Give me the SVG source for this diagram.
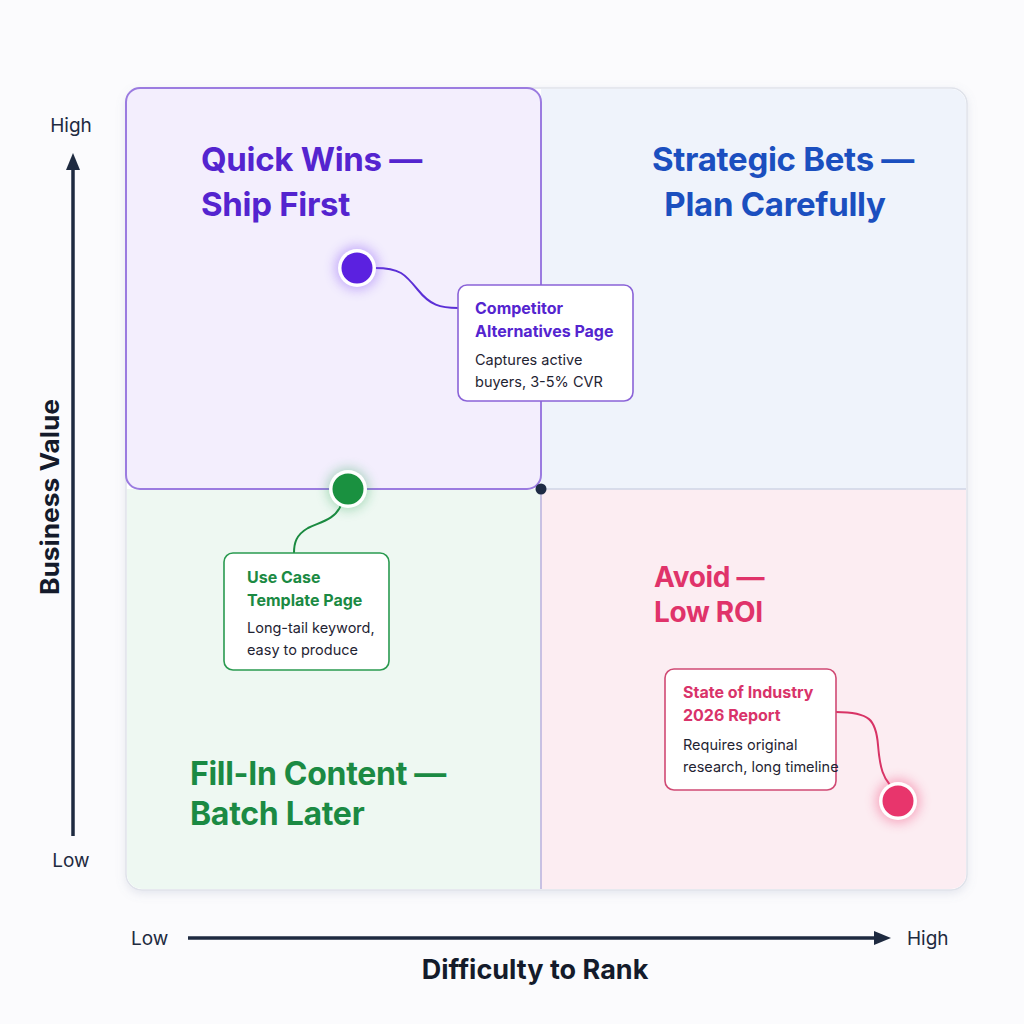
<svg xmlns="http://www.w3.org/2000/svg" width="1024" height="1024" viewBox="0 0 1024 1024">
<defs>
<style>
.title{font-family:Inter,"Noto Sans","Liberation Sans",sans-serif;font-weight:700;font-size:33px;letter-spacing:-0.3px}
.ct{font-family:Inter,"Noto Sans","Liberation Sans",sans-serif;font-weight:700;font-size:16px}
.cb{font-family:Inter,"Noto Sans","Liberation Sans",sans-serif;font-weight:400;font-size:14.5px;fill:#1f2433}
.ax{font-family:Inter,"Noto Sans","Liberation Sans",sans-serif;font-size:19px;fill:#1e2a40}
.axt{font-family:Inter,"Noto Sans","Liberation Sans",sans-serif;font-weight:700;font-size:27px;fill:#141b2b}
.box{fill:#ffffff;stroke-width:1.6}
.conn{fill:none;stroke-width:2}
</style>
<filter id="shadow" x="-10%" y="-10%" width="120%" height="120%">
<feDropShadow dx="0" dy="3" stdDeviation="5" flood-color="#7a86a8" flood-opacity="0.18"/>
</filter>
<filter id="glow" x="-100%" y="-100%" width="300%" height="300%">
<feGaussianBlur stdDeviation="6"/>
</filter>
<marker id="arr" markerWidth="18" markerHeight="18" refX="4" refY="9" orient="auto" markerUnits="userSpaceOnUse" viewBox="0 0 18 18">
<path d="M0,2 L17,9 L0,16 Z" fill="#1e2a40"/>
</marker>
</defs>
<rect width="1024" height="1024" fill="#fbfbfd"/>

<!-- outer card -->
<g id="matrix">
<rect x="126" y="88" width="841" height="802" rx="16" fill="#ffffff" stroke="#dfe2ea" stroke-width="1.5" filter="url(#shadow)"/>
<path d="M541,89 H951 a15,15 0 0 1 15,15 V489 H541 Z" fill="#eff3fb"/>
<path d="M127,489 H541 V889 H142 a15,15 0 0 1 -15,-15 Z" fill="#eef8f2"/>
<path d="M541,489 H966 V874 a15,15 0 0 1 -15,15 H541 Z" fill="#fcedf2"/>
<line x1="541" y1="489" x2="966" y2="489" stroke="#cfd4e6" stroke-width="1.5"/>
<line x1="541" y1="489" x2="541" y2="889" stroke="#b9b0de" stroke-width="1.5"/>
<rect x="126" y="88" width="415" height="401" rx="14" fill="#f3eefd" stroke="#9b7be0" stroke-width="2"/>
</g>

<g id="q-quickwins">
<text class="title" fill="#5424cf"><tspan x="201" y="171">Quick Wins —</tspan><tspan x="201" y="216">Ship First</tspan></text>
</g>
<g id="q-strategic">
<text class="title" fill="#1b4fbf" text-anchor="middle"><tspan x="783" y="171">Strategic Bets —</tspan><tspan x="775" y="216">Plan Carefully</tspan></text>
</g>
<g id="q-fillin">
<text class="title" fill="#1b8a43" style="font-size:32px"><tspan x="190" y="785">Fill-In Content —</tspan><tspan x="190" y="825">Batch Later</tspan></text>
</g>
<g id="q-avoid">
<text class="title" fill="#e0336a" style="font-size:28px"><tspan x="654" y="587">Avoid —</tspan><tspan x="654" y="622">Low ROI</tspan></text>
</g>

<g id="connectors">
<path class="conn" stroke="#5b2fd6" d="M375,268 C400,268 405,274 418,290 C430,305 440,308 458,308"/>
<path class="conn" stroke="#1a8a40" d="M341,505 C335,520 320,522 308,528 C296,535 294,543 294,553"/>
<path class="conn" stroke="#d83466" d="M836,712 C870,712 876,720 878,745 C880,770 884,778 890,785"/>
</g>

<g id="center-dot"><circle cx="541" cy="489" r="5.5" fill="#1e2b45"/></g>

<g id="dot-competitor">
<circle cx="357" cy="268" r="22" fill="#8b5cf6" opacity="0.45" filter="url(#glow)"/>
<circle cx="357" cy="268" r="19" fill="#ffffff"/>
<circle cx="357" cy="268" r="15.5" fill="#5b21e0"/>
</g>
<g id="dot-usecase">
<circle cx="348" cy="489" r="21" fill="#22a050" opacity="0.35" filter="url(#glow)"/>
<circle cx="348" cy="489" r="19" fill="#ffffff"/>
<circle cx="348" cy="489" r="15.5" fill="#1a9140"/>
</g>
<g id="dot-report">
<circle cx="898" cy="801" r="22" fill="#f0507f" opacity="0.45" filter="url(#glow)"/>
<circle cx="898" cy="801" r="19" fill="#ffffff"/>
<circle cx="898" cy="801" r="15.5" fill="#e8356c"/>
</g>

<g id="card-competitor">
<rect class="box" x="458" y="285" width="175" height="116" rx="9" stroke="#8a63d8"/>
<text class="ct" fill="#5424cf"><tspan x="475" y="314">Competitor</tspan><tspan x="475" y="337">Alternatives Page</tspan></text>
<text class="cb"><tspan x="475" y="365">Captures active</tspan><tspan x="475" y="387">buyers, 3-5% CVR</tspan></text>
</g>
<g id="card-usecase">
<rect class="box" x="224" y="553" width="165" height="117" rx="9" stroke="#2a9a50"/>
<text class="ct" fill="#1b8a43"><tspan x="247" y="583">Use Case</tspan><tspan x="247" y="606">Template Page</tspan></text>
<text class="cb"><tspan x="247" y="633">Long-tail keyword,</tspan><tspan x="247" y="655">easy to produce</tspan></text>
</g>
<g id="card-report">
<rect class="box" x="665" y="669" width="171" height="121" rx="9" stroke="#d04a74"/>
<text class="ct" fill="#d9336a"><tspan x="683" y="698">State of Industry</tspan><tspan x="683" y="721">2026 Report</tspan></text>
<text class="cb"><tspan x="683" y="750">Requires original</tspan><tspan x="683" y="772">research, long timeline</tspan></text>
</g>

<g id="y-axis">
<line x1="73" y1="836" x2="73" y2="166" stroke="#1e2a40" stroke-width="3.5" marker-end="url(#arr)"/>
<text class="ax" x="71" y="132" text-anchor="middle">High</text>
<text class="ax" x="71" y="867" text-anchor="middle">Low</text>
<text class="axt" transform="translate(59,497) rotate(-90)" text-anchor="middle" textLength="196" lengthAdjust="spacingAndGlyphs" style="font-size:25px">Business Value</text>
</g>
<g id="x-axis">
<line x1="188" y1="938" x2="878" y2="938" stroke="#1e2a40" stroke-width="3.5" marker-end="url(#arr)"/>
<text class="ax" x="131" y="945">Low</text>
<text class="ax" x="907" y="945">High</text>
<text class="axt" x="535" y="979" text-anchor="middle">Difficulty to Rank</text>
</g>
</svg>
